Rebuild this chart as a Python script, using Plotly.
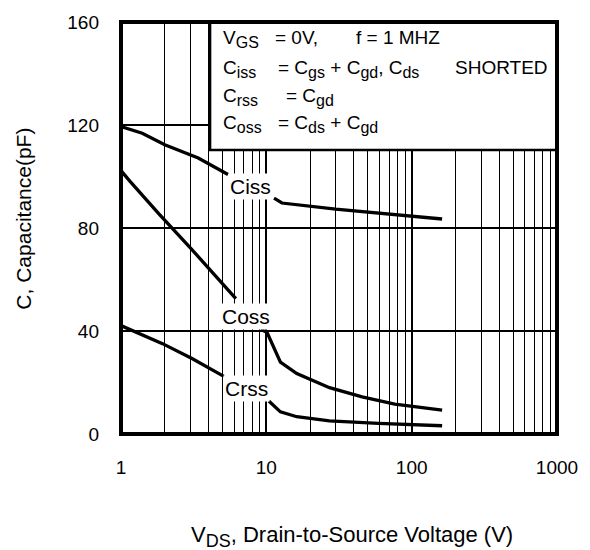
import plotly.graph_objects as go

# ---- data ----
vds_ciss = [1, 1.4, 2.0, 3.4, 5.45, None, 11.3, 12.8, 30, 100, 162]
ciss = [119.4, 116.8, 112.3, 107.2, 100.8, None, 91.6, 89.7, 87.3, 84.6, 83.5]

vds_coss = [1, 1.15, 1.83, 3.0, 6.17, None, 9.15, 10.1, 12.5, 16.2, 27.2, 45.6, 76.5, 162]
coss = [102.3, 98.2, 85.4, 72.3, 52.6, None, 40.6, 39.5, 27.9, 23.5, 18.0, 14.4, 11.6, 9.3]

vds_crss = [1, 1.93, 3.08, 5.1, None, 10.4, 12.5, 16.2, 27.2, 59.0, 162]
crss = [42.1, 35.1, 29.3, 22.4, None, 12.8, 8.6, 6.7, 5.1, 4.1, 3.2]

x_ticks = [1, 10, 100, 1000]
x_tick_text = ["1", "10", "100", "1000"]
y_ticks = [0, 40, 80, 120, 160]

FONT = "Liberation Sans, Arial, Helvetica, sans-serif"
W, H = 590, 550
L, R, T, B = 121, 26, 19, 116
PW, PH = W - L - R, H - T - B


def px(x):
    return (x - L) / PW


def py(y):
    return (H - B - y) / PH


def sub(s, size=16):
    return f"<sub><span style='font-size:{size}px'>{s}</span></sub>"


fig = go.Figure()
for xs, ys in [(vds_ciss, ciss), (vds_coss, coss), (vds_crss, crss)]:
    fig.add_trace(go.Scatter(x=xs, y=ys, mode="lines",
                             line=dict(color="black", width=3.3),
                             connectgaps=False, showlegend=False,
                             hoverinfo="skip"))

fig.update_layout(
    width=W, height=H,
    margin=dict(l=L, r=R, t=T, b=B),
    paper_bgcolor="white", plot_bgcolor="white",
    font=dict(family=FONT, color="black", size=19),
    showlegend=False,
)
fig.update_xaxes(
    type="log", range=[0, 3],
    tickvals=x_ticks, ticktext=x_tick_text,
    showgrid=True, gridcolor="black", gridwidth=2,
    minor=dict(dtick="D1", showgrid=True, gridcolor="black", gridwidth=1.3),
    showline=False, zeroline=False, ticks="",
    ticklabelstandoff=20,
    tickfont=dict(size=19),
)
fig.update_yaxes(
    range=[0, 160], tickvals=y_ticks,
    showgrid=True, gridcolor="black", gridwidth=2,
    showline=False, zeroline=False, ticks="",
    ticklabelstandoff=21,
    tickfont=dict(size=19),
)

# legend/info box (opaque, covers the grid)
fig.add_shape(type="rect", xref="paper", yref="paper",
              x0=px(211.5), x1=1, y0=py(148), y1=1,
              line=dict(color="black", width=2.5), fillcolor="white",
              layer="above")
# plot frame
fig.add_shape(type="rect", xref="paper", yref="paper", x0=0, x1=1, y0=0, y1=1,
              line=dict(color="black", width=4), layer="above")

ann = []


def txt(text, x, y, size=19, xanchor="left", yanchor="top", bg=None, angle=0):
    d = dict(text=text, x=px(x), y=py(y), xref="paper", yref="paper",
             xanchor=xanchor, yanchor=yanchor, showarrow=False,
             font=dict(size=size, family=FONT, color="black"),
             textangle=angle)
    if bg:
        d.update(bgcolor=bg, borderpad=1)
    ann.append(d)


# info box text: (x of left edge, y of top of text box)
rows = [38, 68, 96, 124]
off = 16
txt("V" + sub("GS"), 223, rows[0] - off)
txt("= 0V,", 275, rows[0] - off)
txt("f = 1 MHZ", 358, rows[0] - off)
txt("C" + sub("iss"), 223, rows[1] - off)
txt("= C" + sub("gs") + " + C" + sub("gd") + ", C" + sub("ds"), 278, rows[1] - off)
txt("SHORTED", 458, rows[1] - off)
txt("C" + sub("rss"), 223, rows[2] - off)
txt("= C" + sub("gd"), 287, rows[2] - off)
txt("C" + sub("oss"), 223, rows[3] - off)
txt("= C" + sub("ds") + " + C" + sub("gd"), 278, rows[3] - off)

# curve labels (white background masks the grid)
txt("Ciss", 253, 185, size=21, xanchor="center", yanchor="middle", bg="white")
txt("Coss", 248, 316, size=21, xanchor="center", yanchor="middle", bg="white")
txt("Crss", 249, 388, size=21, xanchor="center", yanchor="middle", bg="white")

# axis titles
txt("V" + sub("DS", 18) + ", Drain-to-Source Voltage (V)", 356, 535 - 14, size=22,
    xanchor="center", yanchor="top")
txt("C, Capacitance(pF)", 21, 217.5, size=21, xanchor="center",
    yanchor="middle", angle=-90)

fig.update_layout(annotations=ann)
fig.write_html("out.html")
